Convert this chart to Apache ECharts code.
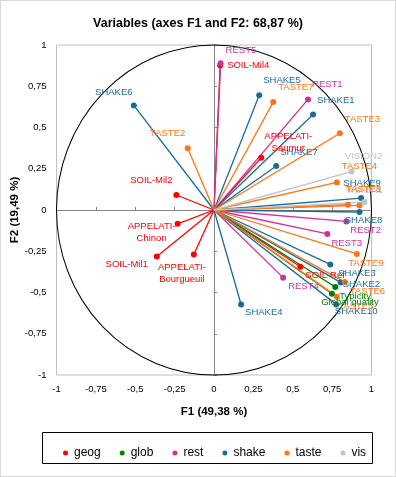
<!DOCTYPE html>
<html>
<head>
<meta charset="utf-8">
<script src="https://cdn.jsdelivr.net/npm/echarts@6/dist/echarts.min.js"></script>
<style>
  html, body { margin: 0; padding: 0; background: #fff; }
  #chart { width: 396px; height: 477px; box-sizing: border-box; border: 1px solid #d9d9d9; }
</style>
</head>
<body>
<div id="chart"></div>
<script>
// variables of the correlation circle
var names = ['SOIL-Mil4', 'SOIL-Mil2', 'SOIL-Mil1', 'SOIL-Ref', 'APPELATI-Saumur', 'APPELATI-Chinon', 'APPELATI-Bourgueuil',
  'Typicity', 'Global quality',
  'REST5', 'REST1', 'REST2', 'REST3', 'REST4',
  'SHAKE1', 'SHAKE2', 'SHAKE3', 'SHAKE4', 'SHAKE5', 'SHAKE6', 'SHAKE7', 'SHAKE8', 'SHAKE9', 'SHAKE10',
  'TASTE1', 'TASTE2', 'TASTE3', 'TASTE4', 'TASTE5', 'TASTE6', 'TASTE7', 'TASTE8', 'TASTE9',
  'VISION1', 'VISION2'];
var groups = ['geog', 'geog', 'geog', 'geog', 'geog', 'geog', 'geog',
  'glob', 'glob',
  'rest', 'rest', 'rest', 'rest', 'rest',
  'shake', 'shake', 'shake', 'shake', 'shake', 'shake', 'shake', 'shake', 'shake', 'shake',
  'taste', 'taste', 'taste', 'taste', 'taste', 'taste', 'taste', 'taste', 'taste',
  'vis', 'vis'];
// F1 coordinates
var f1 = [0.039, -0.239, -0.363, 0.548, 0.300, -0.231, -0.128,
  0.770, 0.749,
  0.042, 0.597, 0.840, 0.720, 0.439,
  0.629, 0.804, 0.738, 0.172, 0.287, -0.509, 0.395, 0.924, 0.934, 0.776,
  0.850, -0.167, 0.799, 0.780, 0.780, 0.831, 0.376, 0.924, 0.907,
  0.955, 0.873];
// F2 coordinates
var f2 = [0.877, 0.091, -0.282, -0.344, 0.316, -0.084, -0.270,
  -0.467, -0.507,
  0.889, 0.670, -0.069, -0.145, -0.410,
  0.579, -0.439, -0.330, -0.573, 0.696, 0.634, 0.267, -0.012, 0.072, -0.572,
  0.032, 0.374, 0.465, 0.167, -0.525, -0.437, 0.654, 0.028, -0.266,
  0.048, 0.233];
var groupNames = ['geog', 'glob', 'rest', 'shake', 'taste', 'vis'];
var axisTicks = [-1, -0.75, -0.5, -0.25, 0, 0.25, 0.5, 0.75, 1];

// 颜色
var colors = {
  geog: '#ff0000',
  glob: '#008000',
  rest: '#cc3399',
  shake: '#1a6b9c',
  taste: '#ff7416',
  vis: '#c3c3c3'
};
// 标签位置 [dx, dy, align]
var labelPlace = {
  'REST5': [5, -13, 'left'],
  'SOIL-Mil4': [7, 0, 'left'],
  'SHAKE5': [4, -15, 'left'],
  'TASTE7': [5, -15, 'left'],
  'REST1': [4, -15, 'left'],
  'SHAKE1': [4, -14, 'left'],
  'TASTE3': [5, -14, 'left'],
  'APPELATI-Saumur': [27, -15, 'center'],
  'SHAKE7': [4, -14, 'left'],
  'VISION2': [12, -15, 'center'],
  'TASTE4': [5, -16, 'left'],
  'SHAKE9': [1, -15, 'center'],
  'VISION1': [0, -12, 'center'],
  'TASTE1': [16, -15, 'center'],
  'TASTE8': [4, -16, 'center'],
  'SHAKE8': [4, 8, 'center'],
  'REST2': [4, 9, 'left'],
  'REST3': [4, 9, 'left'],
  'TASTE9': [9, 9, 'center'],
  'SHAKE3': [8, 9, 'left'],
  'SOIL-Ref': [5, 9, 'left'],
  'REST4': [5, 9, 'left'],
  'SHAKE2': [2, 2, 'left'],
  'TASTE6': [5, 9, 'left'],
  'Typicity': [4, 9, 'left'],
  'Global quality': [18, 9, 'center'],
  'TASTE5': [19, 10, 'center'],
  'SHAKE10': [20, 7, 'center'],
  'SHAKE4': [4, 8, 'left'],
  'SHAKE6': [-20, -13, 'center'],
  'TASTE2': [-20, -15, 'center'],
  'SOIL-Mil2': [-25, -15, 'center'],
  'APPELATI-Chinon': [-26, 9, 'center'],
  'SOIL-Mil1': [-9, 8, 'right'],
  'APPELATI-Bourgueuil': [-12, 19, 'center']
};

var FONT = "'Liberation Sans', Arial, sans-serif";
var comma = function (v) { return String(v).replace('.', ','); };

var series = names.map(function (name, i) {
  var c = colors[groups[i]];
  var p = labelPlace[name] || [4, -12, 'left'];
  return {
    type: 'line',
    name: groups[i],
    silent: true,
    animation: false,
    symbol: 'circle',
    symbolSize: 6,
    lineStyle: { color: c, width: 1.3 },
    itemStyle: { color: c },
    label: {
      show: true,
      position: 'inside',
      offset: [p[0], p[1]],
      align: p[2],
      verticalAlign: 'middle',
      color: c,
      fontFamily: FONT,
      fontSize: 9.5,
      lineHeight: 12,
      formatter: function () { return name.replace('APPELATI-', 'APPELATI-\n'); }
    },
    data: [
      { value: [0, 0], symbol: 'none', label: { show: false } },
      { value: [f1[i], f2[i]] }
    ]
  };
});

var chart = echarts.init(document.getElementById('chart'));
var axisBase = {
  type: 'value',
  min: axisTicks[0],
  max: axisTicks[axisTicks.length - 1],
  interval: 0.25,
  splitLine: { show: false }
};
var option = {
  backgroundColor: '#fff',
  animation: false,
  title: {
    text: 'Variables (axes F1 and F2: 68,87 %)',
    left: 'center',
    top: 11,
    textStyle: { fontFamily: FONT, fontSize: 12.5, fontWeight: 'bold', color: '#000' }
  },
  legend: {
    data: groupNames,
    left: 57,
    top: 441,
    icon: 'circle',
    itemWidth: 5,
    itemHeight: 5,
    itemGap: 19,
    selectedMode: false,
    textStyle: { fontFamily: FONT, fontSize: 12, color: '#000', padding: [0, 0, 0, 1] }
  },
  grid: {
    left: 55.5,
    right: 23.5,
    top: 44,
    bottom: 101,
    outerBoundsMode: 'none',
    containLabel: false,
    show: true,
    borderColor: '#bfbfbf',
    borderWidth: 1
  },
  xAxis: [
    Object.assign({}, axisBase, {
      position: 'bottom',
      name: 'F1 (49,38 %)',
      nameLocation: 'middle',
      nameGap: 31,
      nameMoveOverlap: false,
      nameTextStyle: { fontFamily: FONT, fontSize: 11.5, fontWeight: 'bold', color: '#000' },
      axisLine: { show: false, onZero: false },
      axisTick: { show: false },
      axisLabel: { margin: 9, fontFamily: FONT, fontSize: 9.5, color: '#000', formatter: comma }
    }),
    Object.assign({}, axisBase, {
      axisLine: { show: true, onZero: true, lineStyle: { color: '#868686', width: 1 } },
      axisTick: { show: true, length: 3, lineStyle: { color: '#868686' } },
      axisLabel: { show: false }
    })
  ],
  yAxis: [
    Object.assign({}, axisBase, {
      position: 'left',
      name: 'F2 (19,49 %)',
      nameLocation: 'middle',
      nameGap: 36,
      nameRotate: 90,
      nameMoveOverlap: false,
      nameTextStyle: { fontFamily: FONT, fontSize: 11.5, fontWeight: 'bold', color: '#000' },
      axisLine: { show: false, onZero: false },
      axisTick: { show: false },
      axisLabel: { margin: 10, fontFamily: FONT, fontSize: 9.5, color: '#000', formatter: comma }
    }),
    Object.assign({}, axisBase, {
      axisLine: { show: true, onZero: true, lineStyle: { color: '#868686', width: 1 } },
      axisTick: { show: true, length: 3, lineStyle: { color: '#868686' } },
      axisLabel: { show: false }
    })
  ],
  series: series
};
chart.setOption(option);

// 单位圆 (ellipse on screen since the grid is not square)
var o = chart.convertToPixel({ xAxisIndex: 0, yAxisIndex: 0 }, [0, 0]);
var px = chart.convertToPixel({ xAxisIndex: 0, yAxisIndex: 0 }, [1, 0]);
var py = chart.convertToPixel({ xAxisIndex: 0, yAxisIndex: 0 }, [0, 1]);
var rx = px[0] - o[0];
var ry = o[1] - py[1];
chart.setOption({
  graphic: [
    {
      type: 'circle',
      x: o[0],
      y: o[1],
      scaleY: ry / rx,
      shape: { cx: 0, cy: 0, r: rx },
      style: { fill: 'none', stroke: '#000', lineWidth: 1 },
      strokeNoScale: true,
      silent: true,
      z: 1
    },
    {
      type: 'rect',
      shape: { x: 41.5, y: 431.5, width: 330, height: 31 },
      style: { fill: 'none', stroke: '#000', lineWidth: 1 },
      silent: true,
      z: 0
    }
  ]
});
window.onresize = function () { chart.resize(); };
</script>
</body>
</html>
